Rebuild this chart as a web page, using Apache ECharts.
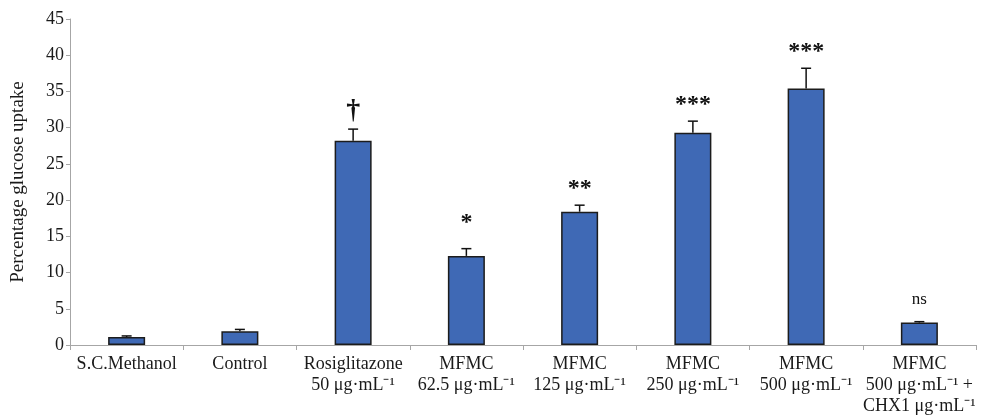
<!DOCTYPE html>
<html>
<head>
<meta charset="utf-8">
<script src="https://cdn.jsdelivr.net/npm/echarts@6/dist/echarts.min.js"></script>
<style>
  html, body { margin: 0; padding: 0; background: #fff; }
  #chart { width: 984px; height: 418px; }
</style>
</head>
<body>
<div id="chart"></div>
<script>
// categories and readings (percentage glucose uptake)
var categories = [
  'S.C.Methanol',
  'Control',
  'Rosiglitazone\n50 μg·mL⁻¹',
  'MFMC\n62.5 μg·mL⁻¹',
  'MFMC\n125 μg·mL⁻¹',
  'MFMC\n250 μg·mL⁻¹',
  'MFMC\n500 μg·mL⁻¹',
  'MFMC\n500 μg·mL⁻¹ +\nCHX1 μg·mL⁻¹'
]
var means = [1.1, 1.9, 28.2, 12.3, 18.4, 29.3, 35.4, 3.1]
var errors = [0.15, 0.25, 1.6, 1.0, 0.9, 1.6, 2.8, 0.12]
var marks = ['', '', '†', '*', '**', '***', '***', 'ns']

var serif = 'Liberation Serif, Times New Roman, serif'
var chart = echarts.init(document.getElementById('chart'))

var errData = means.map(function (m, i) {
  return [i, m, m + errors[i], marks[i]]
})

chart.setOption({
  animation: false,
  grid: { left: 70, right: 8, top: 19, bottom: 73 },
  xAxis: {
    type: 'category',
    data: categories,
    axisLine: { lineStyle: { color: '#a6a6a6', width: 1 } },
    axisTick: { show: true, length: 5, lineStyle: { color: '#a6a6a6' } },
    axisLabel: {
      interval: 0,
      color: '#1a1a1a',
      fontFamily: serif,
      fontSize: 18,
      lineHeight: 21,
      margin: 9
    }
  },
  yAxis: {
    type: 'value',
    min: 0,
    max: 45,
    interval: 5,
    name: 'Percentage glucose uptake',
    nameLocation: 'middle',
    nameGap: 42,
    nameTextStyle: { color: '#1a1a1a', fontFamily: serif, fontSize: 19 },
    axisLine: { show: true, lineStyle: { color: '#a6a6a6' } },
    axisTick: { show: true, length: 4, lineStyle: { color: '#a6a6a6' } },
    splitLine: { show: false },
    axisLabel: { color: '#1a1a1a', fontFamily: serif, fontSize: 18, margin: 6 }
  },
  series: [
    {
      type: 'bar',
      data: means,
      barWidth: 37,
      itemStyle: { color: '#3f69b5', borderColor: '#1c1c1c', borderWidth: 1.5 }
    },
    {
      type: 'custom',
      data: errData,
      z: 5,
      renderItem: function (params, api) {
        var x = api.value(0)
        var base = api.coord([x, api.value(1)])
        var top = api.coord([x, api.value(2)])
        var mark = api.value(3)
        var children = [
          { type: 'line', shape: { x1: base[0], y1: base[1], x2: top[0], y2: top[1] },
            style: { stroke: '#111', lineWidth: 1.5 } },
          { type: 'line', shape: { x1: top[0] - 5, y1: top[1], x2: top[0] + 5, y2: top[1] },
            style: { stroke: '#111', lineWidth: 1.5 } }
        ]
        if (mark) {
          var isNs = mark === 'ns'
          var isStar = mark.charAt(0) === '*'
          var gap = isNs ? 14 : (mark === '*' ? 14 : 4)
          children.push({
            type: 'text',
            x: top[0],
            y: top[1] - gap,
            style: {
              text: mark,
              textAlign: 'center',
              textVerticalAlign: 'bottom',
              fill: '#111',
              font: (isNs ? 'normal 17px ' : 'bold ' + (isStar ? 24 : 28) + 'px ') + serif
            }
          })
        }
        return { type: 'group', children: children }
      }
    }
  ]
})
</script>
</body>
</html>
